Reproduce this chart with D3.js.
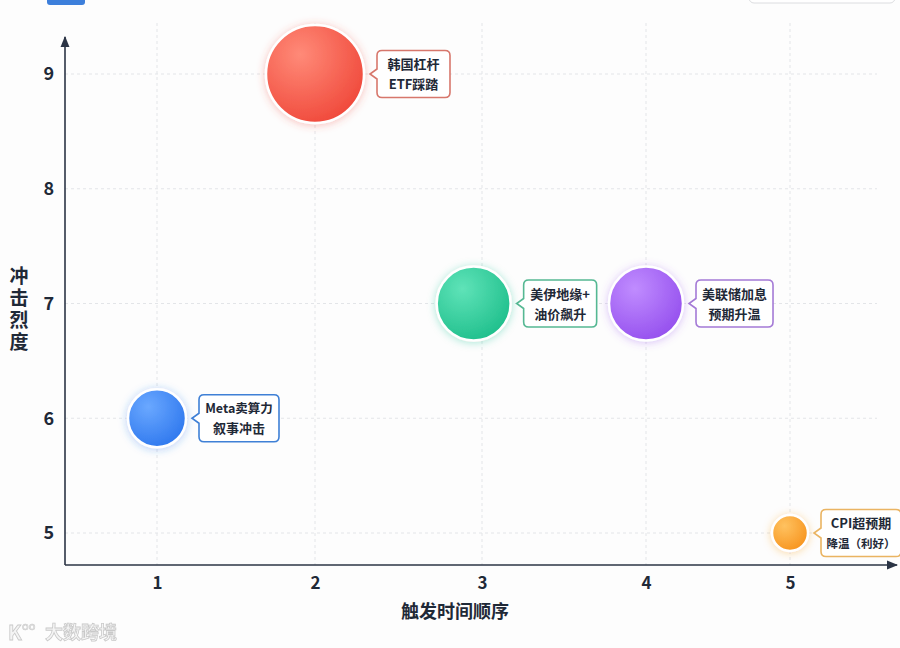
<!DOCTYPE html>
<html><head><meta charset="utf-8">
<script src="https://cdn.jsdelivr.net/npm/d3@7/dist/d3.min.js"></script>
<style>
html,body{margin:0;padding:0;background:#fdfdfd;}
svg{display:block;font-family:"Noto Sans CJK SC","Noto Sans",sans-serif;}
</style></head>
<body><svg id="chart" width="900" height="648"></svg>
<script>
// ---- data ----
const events = ["Meta卖算力|叙事冲击", "韩国杠杆|ETF踩踏", "美伊地缘+|油价飙升", "美联储加息|预期升温", "CPI超预期|降温（利好）"];
const order = [1, 2, 2.95, 4, 5];
const impact = [6, 9, 7, 7, 5];
const xTicks = [1, 2, 3, 4, 5];
const yTicks = [5, 6, 7, 8, 9];
const xTitle = "触发时间顺序";
const yTitle = "冲击烈度";

// ---- styles ----
const palette = [
  {a:"#6aa8ff", b:"#2f78ee", s:"#3f80d6"},
  {a:"#ff8a78", b:"#f0493b", s:"#d7776c"},
  {a:"#5fe3b8", b:"#1fbf8c", s:"#55b893"},
  {a:"#c08cff", b:"#9550ee", s:"#a47ad6"},
  {a:"#ffc260", b:"#f7941e", s:"#eab462"}
];

const svg = d3.select("#chart");
const x = d3.scaleLinear().domain([1,2,3,4,5]).range([157,315,482,646,790]);
const y = d3.scaleLinear().domain([5,9]).range([533,74]);
const r = d3.scaleLinear().domain([5,6,7,9]).range([18,29,37,49]);
const axisX0 = 65, axisY0 = 565;

const defs = svg.append("defs");
palette.forEach((p,i)=>{
  const g = defs.append("radialGradient").attr("id","g"+i).attr("cx","35%").attr("cy","30%").attr("r","75%");
  g.append("stop").attr("offset","0%").attr("stop-color",p.a);
  g.append("stop").attr("offset","100%").attr("stop-color",p.b);
  const f = defs.append("filter").attr("id","f"+i).attr("x","-50%").attr("y","-50%").attr("width","200%").attr("height","200%");
  f.append("feDropShadow").attr("dx",0).attr("dy",1).attr("stdDeviation",4).attr("flood-color",p.b).attr("flood-opacity",0.35);
});
defs.append("marker").attr("id","arrow").attr("viewBox","0 0 10 10").attr("refX",9).attr("refY",5)
  .attr("markerWidth",7).attr("markerHeight",7).attr("orient","auto-start-reverse")
  .append("path").attr("d","M0,1 L10,5 L0,9 Z").attr("fill","#2b3445");

// decorations (cropped header elements)
svg.append("rect").attr("x",47).attr("y",-3).attr("width",38).attr("height",8).attr("rx",3).attr("fill","#3d7fdb");
svg.append("rect").attr("x",749).attr("y",-12).attr("width",146).attr("height",15).attr("rx",5)
  .attr("fill","#fff").attr("stroke","#dcdde0");

// grid
const grid = svg.append("g");
grid.selectAll(".gx").data(xTicks).join("line")
  .attr("x1",d=>x(d)).attr("x2",d=>x(d)).attr("y1",23).attr("y2",axisY0)
  .attr("stroke","#e3e5e8").attr("stroke-dasharray","3,3");
grid.selectAll(".gy").data(yTicks).join("line")
  .attr("x1",axisX0).attr("x2",877).attr("y1",d=>y(d)).attr("y2",d=>y(d))
  .attr("stroke","#e3e5e8").attr("stroke-dasharray","3,3");

// axes
const xAxis = d3.axisBottom(x).tickValues(xTicks).tickSize(0).tickPadding(12).tickFormat(d3.format("d"));
const gx = svg.append("g").attr("transform",`translate(0,${axisY0})`).call(xAxis);
gx.select(".domain").remove();
gx.selectAll("text").attr("font-size",17).attr("font-weight",700).attr("fill","#1f2937")
  .attr("font-family","'Noto Sans CJK SC',sans-serif");
const yAxis = d3.axisLeft(y).tickValues(yTicks).tickSize(0).tickPadding(11).tickFormat(d3.format("d"));
const gy = svg.append("g").attr("transform",`translate(${axisX0},0)`).call(yAxis);
gy.select(".domain").remove();
gy.selectAll("text").attr("font-size",18).attr("font-weight",700).attr("fill","#1f2937")
  .attr("font-family","'Noto Sans CJK SC',sans-serif");

svg.append("line").attr("x1",axisX0).attr("y1",axisY0).attr("x2",897).attr("y2",axisY0)
  .attr("stroke","#2b3445").attr("stroke-width",1.6).attr("marker-end","url(#arrow)");
svg.append("line").attr("x1",axisX0).attr("y1",axisY0).attr("x2",axisX0).attr("y2",37)
  .attr("stroke","#2b3445").attr("stroke-width",1.6).attr("marker-end","url(#arrow)");

// axis titles
svg.append("text").attr("x",455).attr("y",618).attr("text-anchor","middle")
  .attr("font-size",18).attr("font-weight",700).attr("fill","#1f2937").text(xTitle);
svg.append("text").attr("x",19).attr("y",266).attr("writing-mode","tb")
  .style("writing-mode","vertical-rl").style("text-orientation","upright")
  .attr("letter-spacing",3)
  .attr("font-size",19).attr("font-weight",700).attr("fill","#1f2937").text(yTitle);

// bubbles
const data = events.map((e,i)=>({label:e.split("|"), x:order[i], y:impact[i], i}));
const nodes = svg.append("g").selectAll("g").data(data).join("g");
nodes.append("circle")
  .attr("cx",d=>x(d.x)).attr("cy",d=>y(d.y)).attr("r",d=>r(d.y))
  .attr("fill",d=>`url(#g${d.i})`).attr("stroke","#ffffff").attr("stroke-width",2.5)
  .attr("filter",d=>`url(#f${d.i})`);

// labels
nodes.each(function(d){
  const g = d3.select(this);
  const cx = x(d.x), cy = y(d.y), rr = r(d.y);
  const left = cx + rr + 13;
  const t = g.append("text").attr("text-anchor","middle").attr("font-size",13).attr("font-weight",700).attr("fill","#1f2937");
  const spans = d.label.map((l,k)=> t.append("tspan").attr("x",0).attr("y",(k-0.5)*20+5).text(l));
  const bb = t.node().getBBox();
  const w = Math.max(73, Math.min(80, bb.width + 12)), h = 47, rad = 5, p = 7;
  spans.forEach(s=>{
    let fs = 13;
    while (s.node().getComputedTextLength() > w - 10 && fs > 9) { fs -= 0.5; s.attr("font-size", fs); }
  });
  const x0 = left, y0 = cy - h/2;
  t.attr("transform",`translate(${x0 + w/2},${cy})`);
  const path = `M${x0+rad},${y0} H${x0+w-rad} Q${x0+w},${y0} ${x0+w},${y0+rad} V${y0+h-rad} Q${x0+w},${y0+h} ${x0+w-rad},${y0+h} H${x0+rad} Q${x0},${y0+h} ${x0},${y0+h-rad} V${cy+5} L${x0-p},${cy} L${x0},${cy-5} V${y0+rad} Q${x0},${y0} ${x0+rad},${y0} Z`;
  g.insert("path","text").attr("d",path).attr("fill","#ffffff").attr("stroke",palette[d.i].s).attr("stroke-width",1.6);
});

// watermark
const wm = svg.append("g").attr("opacity",0.9);
wm.append("text").attr("x",8).attr("y",640).attr("font-size",20).attr("font-weight",700)
  .attr("fill","#f4f4f4").attr("stroke","#c4c4c4").attr("stroke-width",0.8).text("K");
wm.append("text").attr("x",22).attr("y",630).attr("font-size",11)
  .attr("fill","#f4f4f4").attr("stroke","#c4c4c4").attr("stroke-width",0.6).text("oo");
wm.append("text").attr("x",45).attr("y",639).attr("font-size",18).attr("font-weight",700)
  .attr("fill","#f4f4f4").attr("stroke","#c4c4c4").attr("stroke-width",0.8).text("大数跨境");
</script></body></html>
